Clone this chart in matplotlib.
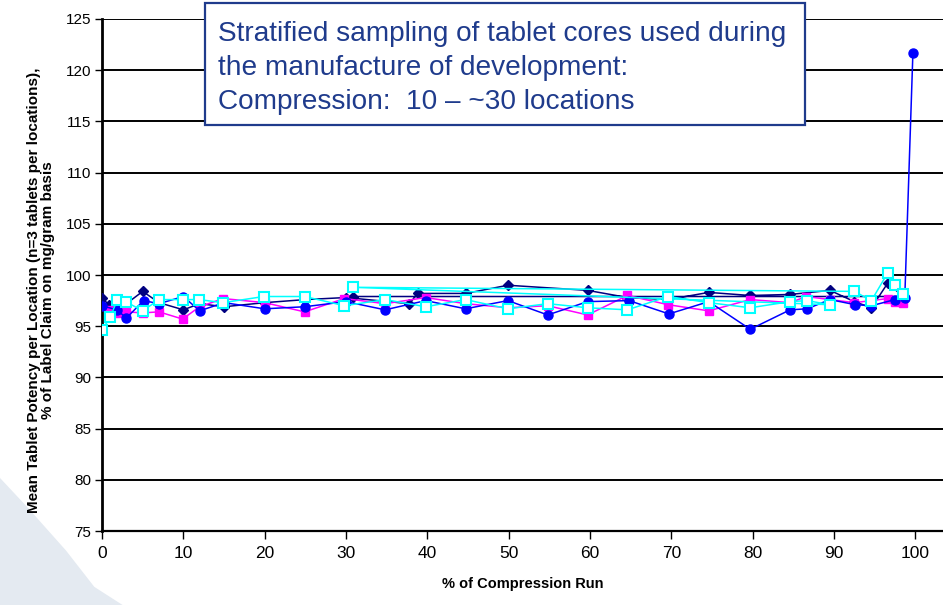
import matplotlib
matplotlib.use("Agg")
import matplotlib.pyplot as plt
from matplotlib.patches import Polygon, Rectangle

# Mean potency (% label claim) by position in the compression run
navy_x = [0, 0.8, 2, 5, 7, 10, 12, 15, 20, 25, 30, 37.8, 38.8, 44.7, 49.9, 59.7,
          64.6, 69.6, 74.6, 79.7, 84.6, 89.5, 92.5, 94.6, 96.6, 98.5, 30.8]
navy_y = [97.8, 97.1, 96.6, 98.4, 97.3, 96.6, 97.2, 96.9, 97.3, 97.6, 97.8, 97.2, 98.2,
          98.2, 99.0, 98.5, 97.8, 97.6, 98.3, 98.0, 98.1, 98.5, 97.4, 96.8, 99.2, 97.9, 97.9]

magenta_x = [0.8, 2, 3, 5, 7, 9.9, 12, 14.9, 20, 24.9, 29.8, 34.8, 39.8, 44.7, 49.9,
             54.8, 59.7, 64.6, 69.6, 74.6, 79.7, 84.6, 86.6, 89.5, 92.5, 94.6, 96.6,
             97.5, 98.5]
magenta_y = [96.6, 96.3, 96.4, 96.3, 96.4, 95.7, 96.9, 97.7, 97.3, 96.4, 97.7, 97.2, 97.8,
             97.2, 96.8, 97.0, 96.1, 98.0, 97.1, 96.5, 97.6, 97.3, 97.9, 97.6, 97.3, 97.5,
             97.7, 97.4, 97.3]

blue_x = [0, 1.8, 3, 5.1, 7, 10, 12, 15, 20, 24.9, 30, 34.8, 39.8, 44.7, 49.9, 54.8,
          59.7, 64.8, 69.7, 74.6, 79.7, 84.6, 86.7, 89.5, 92.6, 94.6, 97.5, 98.7, 99.7]
blue_y = [97.0, 96.6, 95.8, 97.5, 97.2, 97.9, 96.5, 97.3, 96.7, 96.9, 97.4, 96.6, 97.5,
          96.7, 97.5, 96.1, 97.4, 97.5, 96.2, 97.4, 94.7, 96.6, 96.7, 97.6, 97.1, 97.0,
          97.6, 97.8, 121.7]

cyan_x = [0, 1, 1.9, 2.9, 5, 7, 9.9, 11.9, 14.9, 19.9, 24.9, 29.8, 34.8, 39.8, 44.7,
          49.9, 54.8, 59.7, 64.6, 69.6, 74.6, 79.7, 84.6, 86.7, 89.5, 30.8, 92.5, 94.6,
          96.6, 97.5, 98.5]
cyan_y = [94.6, 95.9, 97.6, 97.4, 96.5, 97.6, 97.6, 97.6, 97.3, 97.9, 97.9, 97.0, 97.6,
          96.9, 97.6, 96.7, 97.2, 96.8, 96.6, 97.9, 97.3, 96.8, 97.4, 97.5, 97.1, 98.8,
          98.4, 97.5, 100.2, 99.0, 98.1]

x_ticks = [0, 10, 20, 30, 40, 50, 60, 70, 80, 90, 100]
y_ticks = [75, 80, 85, 90, 95, 100, 105, 110, 115, 120, 125]

note = ("Stratified sampling of tablet cores used during\n"
        "the manufacture of development:\n"
        "Compression:  10 \u2013 ~30 locations")

plt.rcParams["font.family"] = ["Liberation Sans", "DejaVu Sans"]

fig = plt.figure(figsize=(9.43, 6.05), dpi=100)

# faint slide-background swoosh in the lower left corner
swoosh = Polygon([(0, 0), (0, 0.21), (0.03, 0.16), (0.07, 0.09), (0.1, 0.03), (0.13, 0.0)],
                 closed=True, transform=fig.transFigure, facecolor="#e4eaf1",
                 edgecolor="none", zorder=-1)
fig.patches.append(swoosh)

ax = fig.add_axes([0.1082, 0.1223, 0.8918, 0.8463])
ax.patch.set_alpha(0)

ax.plot(navy_x, navy_y, color="#000080", lw=1.1, marker="D", ms=5.5, zorder=3)
ax.plot(magenta_x, magenta_y, color="#ff00ff", lw=1.1, marker="s", ms=6, zorder=4)
ax.plot(blue_x, blue_y, color="#0000ff", lw=1.1, marker="o", ms=6.5, zorder=5)
ax.plot(cyan_x, cyan_y, color="#00ffff", lw=1.1, marker="s", ms=7,
        markerfacecolor="white", markeredgecolor="#00ffff", markeredgewidth=1.5, zorder=6)

ax.set_xlim(0, 103.4)
ax.set_ylim(75, 125)
ax.set_xticks(x_ticks)
ax.set_yticks(y_ticks)
ax.yaxis.grid(True, color="black", lw=1.4)
ax.set_axisbelow(True)

for side in ("top", "right"):
    ax.spines[side].set_visible(False)
ax.spines["left"].set_linewidth(2)
ax.spines["bottom"].set_linewidth(1.6)
ax.tick_params(axis="y", direction="out", length=5, width=1, labelsize=11, pad=3)
ax.tick_params(axis="x", direction="out", length=6, width=1, pad=5)
for lab in ax.get_xticklabels():
    lab.set_family(["Liberation Sans Narrow", "Liberation Sans"])
    lab.set_fontsize(12.5)

ax.set_xlabel("% of Compression Run", fontsize=10.5, fontweight="bold",
              family=["Liberation Sans Narrow", "Liberation Sans"], labelpad=11)
ax.set_ylabel("Mean Tablet Potency per Location (n=3 tablets per locations),\n"
              "% of Label Claim on mg/gram basis", fontsize=11, fontweight="bold",
              linespacing=0.95)
ax.yaxis.set_label_coords(-0.056, 0.47)

# annotation box in the upper part of the plot
box = Rectangle((0.2174, 0.7934), 0.6363, 0.2017, transform=fig.transFigure,
                facecolor="white", edgecolor="#1f3b8c", lw=1.6, zorder=10)
fig.patches.append(box)
fig.text(0.2312, 0.966, note, fontsize=20.2, color="#1f3b8c", va="top", ha="left",
         linespacing=1.4, zorder=11)

fig.savefig("out.png", dpi=100)
